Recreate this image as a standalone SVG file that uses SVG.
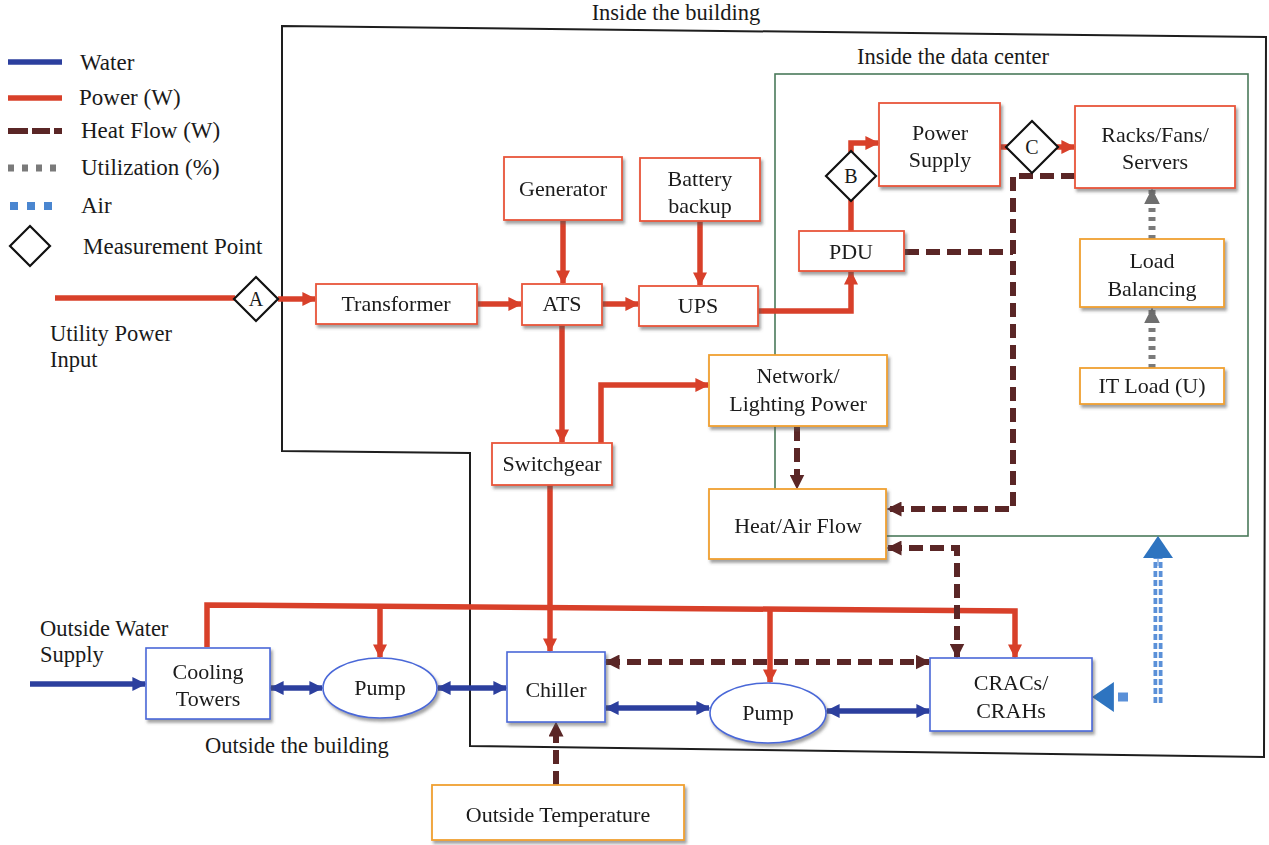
<svg xmlns="http://www.w3.org/2000/svg" width="1269" height="845" viewBox="0 0 1269 845">
<style>
text{font-family:"Liberation Serif","Times New Roman",serif;fill:#1a1a1a}
.lbl{font-size:22px;text-anchor:middle}
.free{font-size:22.5px}
.leg{font-size:23px}
.nr{fill:#fff;stroke:#e8553a;stroke-width:1.8}
.ny{fill:#fff;stroke:#f0a030;stroke-width:1.8}
.nb{fill:#fff;stroke:#4a68d8;stroke-width:1.6}
.dia{fill:#fff;stroke:#111;stroke-width:2.2}
.pw{fill:none;stroke:#d8402a;stroke-width:5.5}
.wt{fill:none;stroke:#2c3f9e;stroke-width:5.5}
.ht{fill:none;stroke:#5a2626;stroke-width:6;stroke-dasharray:14 7}
.ut{fill:none;stroke:#7a7a7a;stroke-width:7;stroke-dasharray:4 5}
.air{fill:none;stroke:#5a90d8;stroke-width:9;stroke-dasharray:6 3}
.airc{fill:none;stroke:#fff;stroke-width:1.5}
</style>
<defs>
<filter id="sh" x="-10%" y="-10%" width="130%" height="140%">
<feDropShadow dx="2" dy="3" stdDeviation="1.5" flood-color="#555" flood-opacity="0.55"/>
</filter>
<marker id="ar" markerUnits="userSpaceOnUse" markerWidth="14" markerHeight="14" viewBox="0 0 10 10" refX="9" refY="5" orient="auto-start-reverse"><path d="M0,0 L10,5 L0,10 z" fill="#d8402a"/></marker>
<marker id="ab" markerUnits="userSpaceOnUse" markerWidth="14" markerHeight="14" viewBox="0 0 10 10" refX="9" refY="5" orient="auto-start-reverse"><path d="M0,0 L10,5 L0,10 z" fill="#2c3f9e"/></marker>
<marker id="ah" markerUnits="userSpaceOnUse" markerWidth="15" markerHeight="15" viewBox="0 0 10 10" refX="9" refY="5" orient="auto-start-reverse"><path d="M0,0 L10,5 L0,10 z" fill="#5a2626"/></marker>
<marker id="ag" markerUnits="userSpaceOnUse" markerWidth="16" markerHeight="16" viewBox="0 0 10 10" refX="9" refY="5" orient="auto-start-reverse"><path d="M0,0 L10,5 L0,10 z" fill="#6f6f6f"/></marker>
<marker id="aa" markerUnits="userSpaceOnUse" markerWidth="22" markerHeight="30" viewBox="0 0 10 10" preserveAspectRatio="none" refX="9.5" refY="5" orient="auto-start-reverse"><path d="M0,0 L10,5 L0,10 z" fill="#2e74c0"/></marker>
</defs>

<g id="boundaries">
<polygon points="282,26 1266,37 1264,757 470,746 470,453 282,451" fill="none" stroke="#1e1e1e" stroke-width="2"/>
<rect x="775" y="74" width="473" height="462" fill="none" stroke="#4a7a5a" stroke-width="1.6"/>
<text class="free" x="676" y="20" text-anchor="middle">Inside the building</text>
<text class="free" x="953" y="64" text-anchor="middle">Inside the data center</text>
<text class="free" x="205" y="753">Outside the building</text>
<text class="free" x="50" y="341">Utility Power</text>
<text class="free" x="50" y="367">Input</text>
<text class="free" x="40" y="636">Outside Water</text>
<text class="free" x="40" y="662">Supply</text>
</g>

<g id="legend">
<line x1="8" y1="62" x2="62" y2="62" class="wt" stroke-width="6"/>
<text class="leg" x="80" y="70">Water</text>
<line x1="8" y1="98" x2="62" y2="98" class="pw"/>
<text class="leg" x="79" y="105">Power (W)</text>
<path d="M8,131 H28 M32,131 H50 M54,131 H62" stroke="#5a2626" stroke-width="6" fill="none"/>
<text class="leg" x="81" y="138">Heat Flow (W)</text>
<path d="M8,168 H14 M22,168 H28 M36,168 H42 M50,168 H56" stroke="#7a7a7a" stroke-width="7" fill="none"/>
<text class="leg" x="81" y="175">Utilization (%)</text>
<path d="M10,206 H18 M27,206 H35 M44,206 H52" stroke="#4a86d0" stroke-width="8" fill="none"/>
<text class="leg" x="81" y="213">Air</text>
<polygon points="30,226 50,246 30,266 10,246" class="dia"/>
<text class="leg" x="83" y="254">Measurement Point</text>
</g>

<g id="connectors">
<!-- power -->
<path class="pw" d="M55,298 H235"/>
<path class="pw" d="M278,299 H315" marker-end="url(#ar)"/>
<path class="pw" d="M477,304 H521" marker-end="url(#ar)"/>
<path class="pw" d="M602,304 H638" marker-end="url(#ar)"/>
<path class="pw" d="M563,221 V283" marker-end="url(#ar)"/>
<path class="pw" d="M700,222 V285" marker-end="url(#ar)"/>
<path class="pw" d="M758,311 H851 V272" marker-end="url(#ar)"/>
<path class="pw" d="M851,231 V200"/>
<path class="pw" d="M851,152 V143 H878" marker-end="url(#ar)"/>
<path class="pw" d="M1000,147 H1008"/>
<path class="pw" d="M1057,147 H1074" marker-end="url(#ar)"/>
<path class="pw" d="M562,325 V442" marker-end="url(#ar)"/>
<path class="pw" d="M601,443 V385 H708" marker-end="url(#ar)"/>
<path class="pw" d="M550,485 V651" marker-end="url(#ar)"/>
<path class="pw" d="M207,647 V605 L1015,611 V657" marker-end="url(#ar)"/>
<path class="pw" d="M380,606 V657" marker-end="url(#ar)"/>
<path class="pw" d="M770,609 V682" marker-end="url(#ar)"/>
<!-- water -->
<path class="wt" d="M30,684 H145" marker-end="url(#ab)"/>
<path class="wt" d="M271,688 H322" marker-start="url(#ab)" marker-end="url(#ab)"/>
<path class="wt" d="M438,688 H506" marker-start="url(#ab)" marker-end="url(#ab)"/>
<path class="wt" d="M606,708 H709" marker-start="url(#ab)" marker-end="url(#ab)"/>
<path class="wt" d="M827,711 H929" marker-start="url(#ab)" marker-end="url(#ab)"/>
<!-- heat -->
<path class="ht" d="M1075,176 H1013 V509 H888" marker-end="url(#ah)"/>
<path class="ht" d="M905,252 H1013"/>
<path class="ht" d="M797,427 V488" marker-end="url(#ah)"/>
<path class="ht" d="M888,548 H957 V657" marker-start="url(#ah)" marker-end="url(#ah)"/>
<path class="ht" d="M606,662 H929" marker-start="url(#ah)" marker-end="url(#ah)"/>
<path class="ht" d="M556,785 V723" marker-end="url(#ah)"/>
<!-- utilization -->
<path class="ut" d="M1152,368 V309" marker-end="url(#ag)"/>
<path class="ut" d="M1152,239 V190" marker-end="url(#ag)"/>
<!-- air -->
<path class="air" d="M1158,703 V556"/>
<path class="airc" d="M1158,703 V560"/>
<path d="M1158,566 V537" fill="none" stroke="#5a90d8" stroke-width="1" marker-end="url(#aa)"/>
<path d="M1118,697 H1128" stroke="#5a90d8" stroke-width="9" fill="none"/>
<path d="M1106,697 H1093" fill="none" stroke="#2e74c0" stroke-width="1" marker-end="url(#aa)"/>
</g>

<g id="diamond-A"><polygon points="256,277 278,299 256,321 234,299" class="dia"/><text x="256" y="306" font-size="20" text-anchor="middle">A</text></g>
<g id="diamond-B"><polygon points="851,151 876,176 851,201 826,176" class="dia"/><text x="851" y="183" font-size="20" text-anchor="middle">B</text></g>
<g id="diamond-C"><polygon points="1032,121 1058,147 1032,173 1006,147" class="dia"/><text x="1032" y="154" font-size="20" text-anchor="middle">C</text></g>

<g id="transformer" filter="url(#sh)"><rect x="316" y="284" width="161" height="40" class="nr"/><text class="lbl" x="396" y="311">Transformer</text></g>
<g id="ats" filter="url(#sh)"><rect x="522" y="284" width="80" height="41" class="nr"/><text class="lbl" x="562" y="311">ATS</text></g>
<g id="ups" filter="url(#sh)"><rect x="639" y="286" width="119" height="40" class="nr"/><text class="lbl" x="698" y="313">UPS</text></g>
<g id="generator" filter="url(#sh)"><rect x="504" y="157" width="118" height="63" class="nr"/><text class="lbl" x="563" y="196">Generator</text></g>
<g id="battery" filter="url(#sh)"><rect x="640" y="158" width="120" height="63" class="nr"/><text class="lbl" x="700" y="186">Battery</text><text class="lbl" x="700" y="213">backup</text></g>
<g id="switchgear" filter="url(#sh)"><rect x="492" y="443" width="120" height="42" class="nr"/><text class="lbl" x="552" y="471">Switchgear</text></g>
<g id="network" filter="url(#sh)"><rect x="709" y="355" width="178" height="71" class="ny"/><text class="lbl" x="798" y="383">Network/</text><text class="lbl" x="798" y="411">Lighting Power</text></g>
<g id="heat-air" filter="url(#sh)"><rect x="709" y="489" width="177" height="70" class="ny"/><text class="lbl" x="798" y="533">Heat/Air Flow</text></g>
<g id="pdu" filter="url(#sh)"><rect x="799" y="231" width="105" height="40" class="nr"/><text class="lbl" x="851" y="259">PDU</text></g>
<g id="power-supply" filter="url(#sh)"><rect x="879" y="103" width="121" height="83" class="nr"/><text class="lbl" x="940" y="140">Power</text><text class="lbl" x="940" y="167">Supply</text></g>
<g id="racks" filter="url(#sh)"><rect x="1075" y="106" width="160" height="82" class="nr"/><text class="lbl" x="1155" y="142">Racks/Fans/</text><text class="lbl" x="1155" y="169">Servers</text></g>
<g id="load-balancing" filter="url(#sh)"><rect x="1080" y="239" width="144" height="68" class="ny"/><text class="lbl" x="1152" y="268">Load</text><text class="lbl" x="1152" y="296">Balancing</text></g>
<g id="it-load" filter="url(#sh)"><rect x="1080" y="368" width="144" height="36" class="ny"/><text class="lbl" x="1152" y="393">IT Load (U)</text></g>
<g id="cooling-towers" filter="url(#sh)"><rect x="146" y="648" width="124" height="71" class="nb"/><text class="lbl" x="208" y="679">Cooling</text><text class="lbl" x="208" y="706">Towers</text></g>
<g id="pump1" filter="url(#sh)"><ellipse cx="380" cy="688" rx="57" ry="30" class="nb"/><text class="lbl" x="380" y="695">Pump</text></g>
<g id="chiller" filter="url(#sh)"><rect x="507" y="652" width="98" height="70" class="nb"/><text class="lbl" x="556" y="697">Chiller</text></g>
<g id="pump2" filter="url(#sh)"><ellipse cx="768" cy="713" rx="58" ry="30" class="nb"/><text class="lbl" x="768" y="720">Pump</text></g>
<g id="cracs" filter="url(#sh)"><rect x="930" y="658" width="162" height="73" class="nb"/><text class="lbl" x="1011" y="690">CRACs/</text><text class="lbl" x="1011" y="718">CRAHs</text></g>
<g id="outside-temp" filter="url(#sh)"><rect x="432" y="785" width="252" height="55" class="ny"/><text class="lbl" x="558" y="822">Outside Temperature</text></g>
</svg>
